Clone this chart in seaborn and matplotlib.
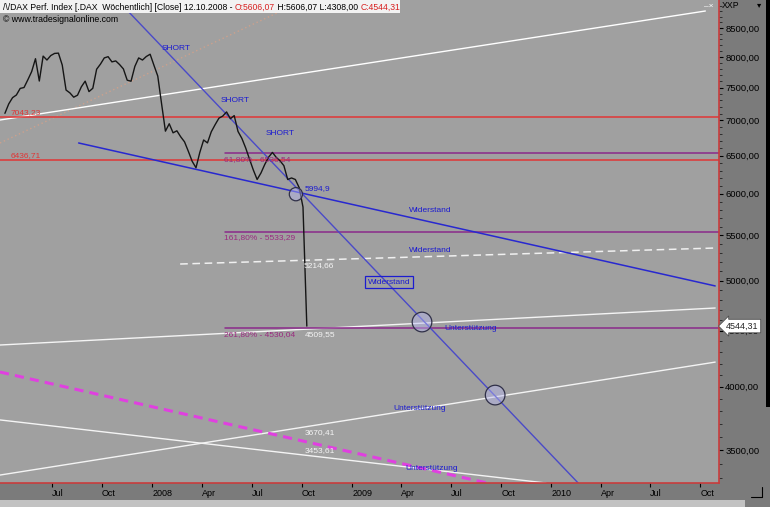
import pandas as pd
import matplotlib
matplotlib.use('Agg')
import matplotlib.pyplot as plt
import matplotlib.dates as mdates
from matplotlib.patches import Rectangle
from matplotlib.lines import Line2D
from matplotlib.font_manager import FontProperties
from matplotlib.ticker import FixedLocator, FuncFormatter, NullFormatter
import seaborn as sns

# DAX weekly closes
weeks = pd.date_range(end='2008-10-10', periods=80, freq='W-FRI')
closes = [7105, 7247, 7343, 7384, 7487, 7501, 7624, 7756, 7969, 7604,
          8013, 7947, 8022, 8058, 8063, 7864, 7461, 7417, 7350, 7381,
          7512, 7602, 7437, 7489, 7795, 7879, 7982, 8003, 7916, 7932,
          7872, 7800, 7617, 7601, 7841, 7982, 7947, 8006, 8044, 7859,
          7683, 7247, 6844, 6951, 6820, 6849, 6763, 6692, 6560, 6424,
          6337, 6545, 6718, 6677, 6835, 6937, 7033, 7064, 7126, 7025,
          7071, 6839, 6741, 6607, 6454, 6308, 6183, 6268, 6382, 6480,
          6545, 6477, 6430, 6365, 6183, 6203, 6183, 6078, 5835, 4544.31]

# horizontal levels
red_levels = [7043.23, 6436.71]
red_labels = ['7043,23', '6436,71']
fib_levels = [6536.54, 5533.29, 4530.04]
fib_labels = ['61,80% - 6536,54', '161,80% - 5533,29', '261,80% - 4530,04']
fib_start = '2008-05-13'

# trend lines: dates, values
short_dates, short_vals = ['2007-10-29', '2010-02-19'], [9015, 3268]
wider_dates, wider_vals = ['2007-08-19', '2010-10-28'], [6676, 4944]
top_white_dates, top_white_vals = ['2007-03-28', '2010-10-10'], [7006, 8809]
orange_dates, orange_vals = ['2007-03-28', '2008-10-06'], [6676, 9015]
dash_white_dates, dash_white_vals = ['2008-02-21', '2010-10-28'], [5177, 5354]
low_white_dates, low_white_vals = ['2007-03-28', '2010-10-28'], [4367, 4720]
rise_white_dates, rise_white_vals = ['2007-03-28', '2010-10-28'], [3323, 4213]
fall_white_dates, fall_white_vals = ['2007-03-28', '2009-12-22'], [3731, 3268]
magenta_dates, magenta_vals = ['2007-03-28', '2009-09-05'], [4126, 3268]

# intersection circles
circle_dates = ['2008-09-20', '2009-05-09', '2009-09-20']
circle_vals = [5995, 4583, 3931]
circle_sizes = [90, 200, 200]

yticks = [3500, 4000, 4500, 5000, 5500, 6000, 6500, 7000, 7500, 8000, 8500]
xticks = pd.date_range('2007-07-01', '2010-10-01', freq='QS-JAN')

header_parts = [('/\\/DAX Perf. Index [.DAX  Wöchentlich] [Close] 12.10.2008 - ', 'black'),
                ('O:5606,07', '#d82020'), (' H:5606,07 L:4308,00 ', 'black'),
                ('C:4544,31', '#d82020')]

sns.set_style('white')
plt.rcParams['font.family'] = ['Liberation Sans', 'DejaVu Sans']

fig = plt.figure(figsize=(7.7, 5.07), dpi=100, facecolor='#7b7b7b')
ax = fig.add_axes([0, 24 / 507, 719 / 770, 483 / 507])
ax.set_facecolor('#a0a0a0')


def at(px, py):
    return px / 719, 1 - py / 483


d = pd.to_datetime
# lines
ax.plot(d(orange_dates), orange_vals, color='#d8a088', lw=1, ls=(0, (1, 2)), alpha=0.8)
ax.plot(d(top_white_dates), top_white_vals, color='white', lw=1)
ax.plot(d(dash_white_dates), dash_white_vals, color='#f0f0f0', lw=1.1, ls=(0, (5, 3)))
ax.plot(d(low_white_dates), low_white_vals, color='#f4f4f4', lw=1)
ax.plot(d(rise_white_dates), rise_white_vals, color='#f4f4f4', lw=1)
ax.plot(d(fall_white_dates), fall_white_vals, color='#f4f4f4', lw=1)
ax.plot(d(magenta_dates), magenta_vals, color='#e040e0', lw=2.2, ls=(0, (3, 2)))

for lv in red_levels:
    ax.axhline(lv, color='#e03535', lw=1.1)
for lv in fib_levels:
    ax.plot(d([fib_start, '2010-11-04']), [lv, lv], color='#8a2a8a', lw=1.1)

ax.plot(d(short_dates), short_vals, color='#4a4ac8', lw=1)
ax.plot(d(wider_dates), wider_vals, color='#2828d0', lw=1.1)

sns.lineplot(x=weeks, y=closes, ax=ax, color='#151515', lw=1.0)

ax.scatter(d(circle_dates), circle_vals, s=circle_sizes, facecolor=(0.72, 0.72, 0.95, 0.45),
           edgecolor='#303048', lw=0.9, zorder=5)

ax.set_yscale('log')
ax.set_xlim(d('2007-03-28'), d('2010-11-04'))
ax.set_ylim(3268, 9015)

ax.yaxis.tick_right()
ax.yaxis.set_major_locator(FixedLocator(yticks))
ax.yaxis.set_major_formatter(FuncFormatter(lambda v, p: f'{v:.2f}'.replace('.', ',')))
ax.yaxis.set_minor_locator(FixedLocator([v for v in range(3300, 9001, 100) if v % 500]))
ax.yaxis.set_minor_formatter(NullFormatter())
ax.tick_params(axis='y', which='major', direction='out', length=3, width=0.8, pad=1.5,
               labelsize=6.8, colors='black', right=True, left=False)
ax.tick_params(axis='y', which='minor', direction='out', length=2, width=0.6, right=True, left=False,
               colors='#222222')

ax.set_xticks(xticks)
ax.set_xticklabels([str(t.year) if t.month == 1 else t.strftime('%b') for t in xticks])
ax.tick_params(axis='x', direction='out', length=3, width=0.8, pad=1, labelsize=6.5,
               colors='black', bottom=True)
for lab in ax.get_xticklabels():
    lab.set_ha('left')
ax.set_xlabel('')
ax.set_ylabel('')

for s in ['left', 'top']:
    ax.spines[s].set_visible(False)
for s in ['right', 'bottom']:
    ax.spines[s].set_color('#c83c3c')
    ax.spines[s].set_linewidth(1.2)

# annotations
blue = '#1c1cd0'
kw = dict(transform=ax.transAxes, fontsize=6, va='center', ha='left')
for txt, px, py in [('SHORT', 162, 49), ('SHORT', 221, 100), ('SHORT', 266, 134),
                    ('5994,9', 305, 189), ('Widerstand', 409, 211), ('Widerstand', 409, 251),
                    ('Unterstützung', 444, 328), ('Unterstützung', 393, 408),
                    ('Unterstützung', 405, 469)]:
    ax.text(*at(px, py), txt, color=blue, **kw)
ax.text(*at(389, 282), 'Widerstand', color=blue, transform=ax.transAxes, fontsize=6,
        va='center', ha='center',
        bbox=dict(boxstyle='square,pad=0.35', fc='none', ec=blue, lw=0.9))
for txt, px, py in [('5214,66', 304, 266), ('4509,55', 305, 335),
                    ('3670,41', 305, 433), ('3453,61', 305, 451)]:
    ax.text(*at(px, py), txt, color='#f4f4f4', **kw)
for txt, py in zip(fib_labels, [160, 238, 335]):
    ax.text(*at(224, py), txt, color='#9a2a80', **kw)
for txt, py in zip(red_labels, [113, 156]):
    ax.text(*at(11, py), txt, color='#e03535', **kw)

# last price marker
ax.annotate('4544,31', xy=(1.0, closes[-1]), xycoords=('axes fraction', 'data'),
            xytext=(5, 0), textcoords='offset points', fontsize=6.5, va='center', ha='left',
            bbox=dict(boxstyle='larrow,pad=0.25', fc='white', ec='#505050', lw=0.6),
            annotation_clip=False, zorder=10)

# header
fig.patches.append(Rectangle((0, 1 - 13 / 507), 400 / 770, 13 / 507, transform=fig.transFigure,
                             fc='#f2f2f2', ec='none', zorder=5))
renderer = fig.canvas.get_renderer()
fp = FontProperties(family=['Liberation Sans', 'DejaVu Sans'], size=6.2)


def text_w(s):
    w1 = renderer.get_text_width_height_descent(s + 'X', fp, ismath=False)[0]
    w2 = renderer.get_text_width_height_descent('X', fp, ismath=False)[0]
    return w1 - w2


prefix = ''
for txt, col in header_parts:
    fig.text((3 + text_w(prefix)) / 770, 1 - 10 / 507, txt, color=col, fontproperties=fp,
             va='baseline', ha='left', zorder=6)
    prefix += txt
fig.text(3 / 770, 1 - 20 / 507, '© www.tradesignalonline.com', fontsize=6.3, va='center',
         ha='left', color='black')
fig.text(722 / 770, 1 - 6 / 507, 'XXP', fontsize=6.3, va='center', ha='left', color='black')
fig.text(759 / 770, 1 - 6 / 507, '▾', fontsize=6, va='center', ha='center', color='black')
fig.text(704 / 770, 1 - 6 / 507, '–×', fontsize=6, va='center', ha='left', color='white')

# window bits
fig.patches.append(Rectangle((766 / 770, 1 - 407 / 507), 4 / 770, 407 / 507,
                             transform=fig.transFigure, fc='black', ec='none'))
fig.patches.append(Rectangle((0, 0), 745 / 770, 7 / 507, transform=fig.transFigure,
                             fc='#c2c2c2', ec='none'))
# small axis icon bottom right
fig.add_artist(Line2D([751 / 770, 762 / 770, 762 / 770], [1 - 497 / 507, 1 - 497 / 507, 1 - 487 / 507],
                      transform=fig.transFigure, color='black', lw=0.8))

plt.savefig('out.png', dpi=100, facecolor=fig.get_facecolor())
